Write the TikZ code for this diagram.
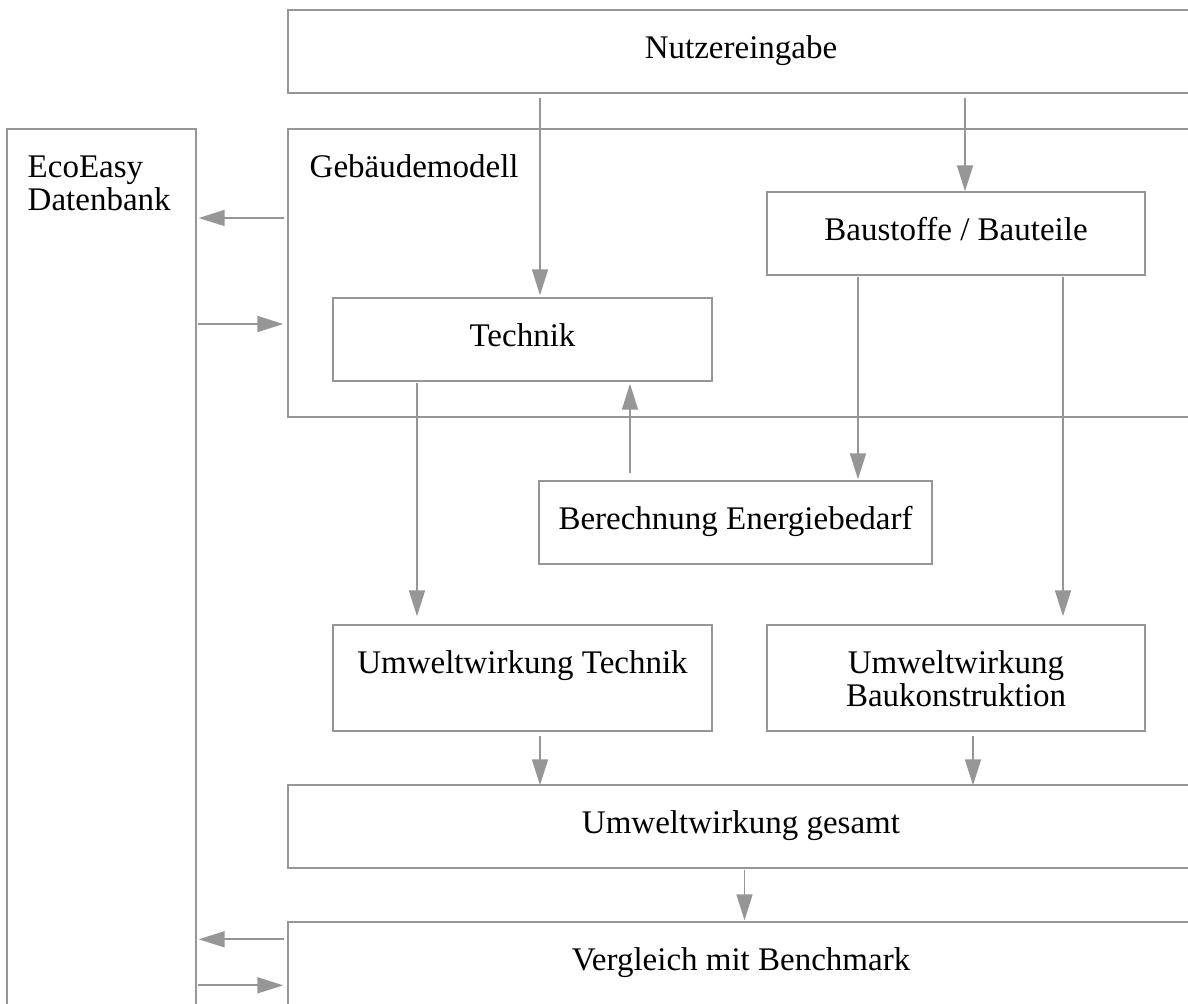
\documentclass[tikz,border=0pt]{standalone}
\usepackage{fontspec}
\setmainfont{Liberation Serif}
\usetikzlibrary{arrows.meta,calc}
\definecolor{linegrey}{RGB}{150,150,150}
\tikzset{
    flowbox/.style={draw=linegrey, line width=0.7pt, rectangle, inner sep=0pt},
    boxtext/.style={anchor=base, inner sep=0pt, align=center},
    flowarrow/.style={draw=linegrey, line width=0.85pt, -{Triangle[length=13pt,width=8pt]}}
}
\begin{document}
\begin{tikzpicture}[x=0.5pt, y=-0.5pt, font=\fontsize{16.5}{16.5}\selectfont]
    \useasboundingbox (0,0) rectangle (1188,1003);
    \node[flowbox, minimum width=453pt, minimum height=41.5pt] (nutzer) at (741,51.5) {};
    \node[flowbox, minimum width=94.5pt, minimum height=443pt] (eco) at (101.5,572) {};
    \node[flowbox, minimum width=453pt, minimum height=144pt] (gebaeude) at (741,273) {};
    \node[flowbox, minimum width=189pt, minimum height=41.5pt] (baustoffe) at (956,233.5) {};
    \node[flowbox, minimum width=189.5pt, minimum height=41.5pt] (technik) at (522.5,339.5) {};
    \node[flowbox, minimum width=196.5pt, minimum height=41.5pt] (berechnung) at (735.5,522.5) {};
    \node[flowbox, minimum width=189.5pt, minimum height=53pt] (uwtechnik) at (522.5,678) {};
    \node[flowbox, minimum width=189pt, minimum height=53pt] (uwbau) at (956,678) {};
    \node[flowbox, minimum width=453pt, minimum height=41.5pt] (gesamt) at (741,826.5) {};
    \node[flowbox, minimum width=453pt, minimum height=44pt] (vergleich) at (741,966) {};

    % two-line texts sit on the baseline of their last line
    \node[boxtext] (nutzertext) at ($(nutzer.north)+(0,49)$) {Nutzereingabe};
    \node[boxtext, anchor=base west, align=left] (ecotext) at ($(eco.north west)+(21,82)$) {EcoEasy\\Datenbank};
    \node[boxtext, anchor=base west] (gebaeudetext) at ($(gebaeude.north west)+(22,49)$) {Gebäudemodell};
    \node[boxtext] (baustoffetext) at ($(baustoffe.north)+(0,49)$) {Baustoffe / Bauteile};
    \node[boxtext] (techniktext) at ($(technik.north)+(0,49)$) {Technik};
    \node[boxtext] (berechnungtext) at ($(berechnung.north)+(0,49)$) {Berechnung Energiebedarf};
    \node[boxtext] (uwtechniktext) at ($(uwtechnik.north)+(0,49)$) {Umweltwirkung Technik};
    \node[boxtext] (uwbautext) at ($(uwbau.north)+(0,82)$) {Umweltwirkung\\Baukonstruktion};
    \node[boxtext] (gesamttext) at ($(gesamt.north)+(0,49)$) {Umweltwirkung gesamt};
    \node[boxtext] (vergleichtext) at ($(vergleich.north)+(0,49)$) {Vergleich mit Benchmark};

    \draw[flowarrow] ($(technik.north |- nutzer.south)+(17.5,4)$) -- ($(technik.north)+(17.5,-2)$);
    \draw[flowarrow] ($(baustoffe.north |- nutzer.south)+(9,4)$) -- ($(baustoffe.north)+(9,0)$);
    \draw[flowarrow] ($(gebaeude.west)+(-3,-55)$) -- ($(eco.east |- gebaeude.west)+(2,-55)$);
    \draw[flowarrow] ($(eco.east |- gebaeude.west)+(1,51)$) -- ($(gebaeude.west)+(-4,51)$);
    \draw[flowarrow] ($(technik.south)+(-105.5,1)$) -- ($(uwtechnik.north -| technik.south)+(-105.5,-8)$);
    \draw[flowarrow] ($(berechnung.north)+(-105.5,-7)$) -- ($(technik.south -| berechnung.north)+(-105.5,2)$);
    \draw[flowarrow] ($(baustoffe.south)+(-98,1)$) -- ($(berechnung.north -| baustoffe.south)+(-98,-1)$);
    \draw[flowarrow] ($(baustoffe.south)+(107,1)$) -- ($(uwbau.north -| baustoffe.south)+(107,-8)$);
    \draw[flowarrow] ($(uwtechnik.south)+(17.5,4)$) -- ($(gesamt.north -| uwtechnik.south)+(17.5,1)$);
    \draw[flowarrow] ($(uwbau.south)+(17,4)$) -- ($(gesamt.north -| uwbau.south)+(17,1)$);
    \draw[flowarrow] ($(gesamt.south)+(3.5,1)$) -- ($(vergleich.north)+(3.5,-1)$);
    \draw[flowarrow] ($(vergleich.north west)+(-3,18)$) -- ($(eco.east |- vergleich.north west)+(2,18)$);
    \draw[flowarrow] ($(eco.east |- vergleich.north west)+(1,64)$) -- ($(vergleich.north west)+(-4,64)$);
\end{tikzpicture}
\end{document}
